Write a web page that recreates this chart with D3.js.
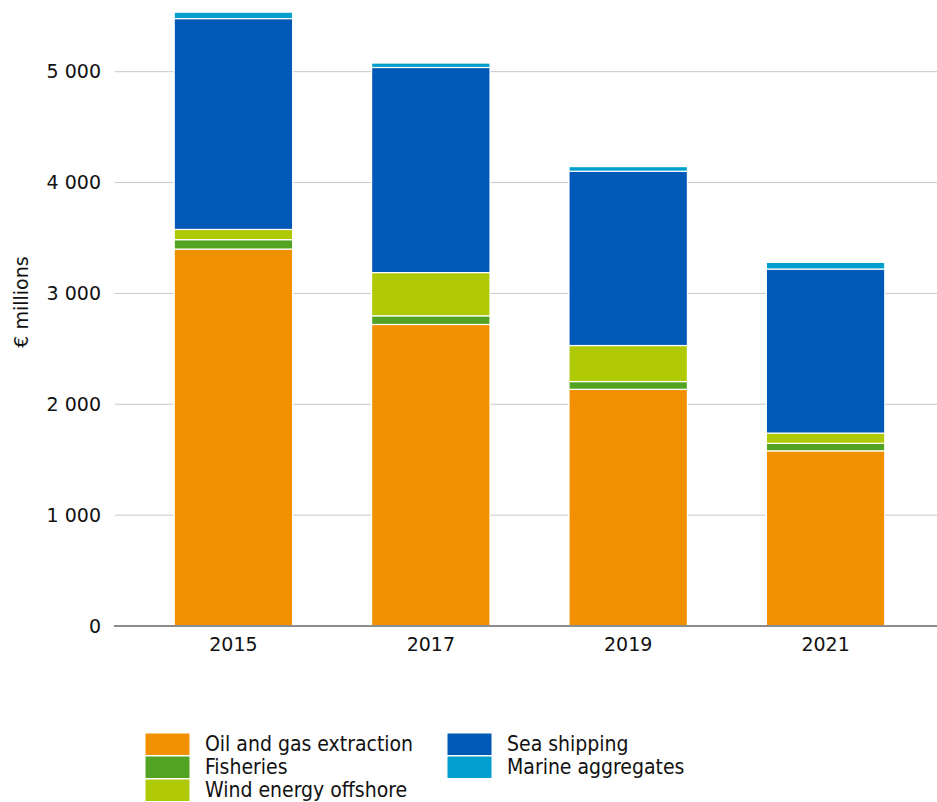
<!DOCTYPE html>
<html>
<head>
<meta charset="utf-8">
<script src="https://cdn.jsdelivr.net/npm/d3@7"></script>
<style>
  body { margin: 0; background: #fff; }
  svg { display: block; }
  .tick text { font-family: "DejaVu Sans", sans-serif; font-size: 19px; fill: #111; }
</style>
</head>
<body>
<svg id="chart" width="937" height="802"></svg>
<script>
// values (€ millions)
var years = ["2015", "2017", "2019", "2021"];
var oilGas = [3400, 2720, 2135, 1580];
var fisheries = [85, 78, 70, 68];
var wind = [92, 390, 325, 92];
var shipping = [1902, 1850, 1572, 1480];
var aggregates = [58, 40, 42, 60];

var seriesNames = ["Oil and gas extraction", "Fisheries", "Wind energy offshore", "Sea shipping", "Marine aggregates"];
var seriesColors = ["#f29100", "#52a321", "#afca05", "#0058b7", "#009fcd"];
var yTicks = [0, 1000, 2000, 3000, 4000, 5000];

var svg = d3.select("#chart");

var rows = years.map(function(y, i) {
  return { year: y, s0: oilGas[i], s1: fisheries[i], s2: wind[i], s3: shipping[i], s4: aggregates[i] };
});
var keys = ["s0", "s1", "s2", "s3", "s4"];
var stacked = d3.stack().keys(keys)(rows);

var x = d3.scaleBand().domain(years).range([115, 944]).paddingInner(0.4).paddingOuter(0.3);
var y = d3.scaleLinear().domain([0, 5000]).range([626, 71.7]);

var fmt = function(d) { return d3.format(",")(d).replace(",", " "); };

// grid lines
svg.append("g")
  .selectAll("line")
  .data(yTicks.filter(function(d) { return d > 0; }))
  .enter().append("line")
  .attr("x1", 115).attr("x2", 937)
  .attr("y1", function(d) { return y(d); })
  .attr("y2", function(d) { return y(d); })
  .attr("stroke", "#c8c8c8").attr("stroke-width", 1);

// y axis labels
var yAxis = svg.append("g")
  .attr("transform", "translate(115,0)")
  .call(d3.axisLeft(y).tickValues(yTicks).tickFormat(fmt).tickSize(0).tickPadding(14));
yAxis.select(".domain").remove();

// bars
svg.append("g")
  .selectAll("g")
  .data(stacked)
  .enter().append("g")
  .attr("fill", function(d, i) { return seriesColors[i]; })
  .selectAll("rect")
  .data(function(d) { return d; })
  .enter().append("rect")
  .attr("x", function(d) { return x(d.data.year); })
  .attr("width", x.bandwidth())
  .attr("y", function(d) { return y(d[1]); })
  .attr("height", function(d) { return y(d[0]) - y(d[1]); })
  .attr("stroke", "#fff").attr("stroke-width", 1.2);

// x axis
var xAxis = svg.append("g")
  .attr("transform", "translate(0,626)")
  .call(d3.axisBottom(x).tickSize(0).tickPadding(12));
xAxis.select(".domain").remove();
svg.append("line")
  .attr("x1", 114).attr("x2", 937)
  .attr("y1", 626).attr("y2", 626)
  .attr("stroke", "#8c8c8c").attr("stroke-width", 2);

// y title
svg.append("text")
  .attr("transform", "translate(28,302) rotate(-90)")
  .attr("text-anchor", "middle")
  .attr("font-family", "DejaVu Sans, sans-serif")
  .attr("font-size", 19)
  .attr("fill", "#111")
  .text("€ millions");

// legend
var legendPos = [[145, 733], [145, 756], [145, 779], [447, 733], [447, 756]];
var legend = svg.append("g")
  .selectAll("g")
  .data(seriesNames)
  .enter().append("g")
  .attr("transform", function(d, i) { return "translate(" + legendPos[i][0] + "," + legendPos[i][1] + ")"; });
legend.append("rect")
  .attr("width", 45).attr("height", 22.5)
  .attr("fill", function(d, i) { return seriesColors[i]; })
  .attr("stroke", "#fff").attr("stroke-width", 1);
legend.append("text")
  .attr("x", 60).attr("y", 18)
  .attr("font-family", "'Liberation Sans Narrow', 'DejaVu Sans Condensed', sans-serif")
  .attr("font-size", 21)
  .attr("fill", "#111")
  .text(function(d) { return d; });
</script>
</body>
</html>
